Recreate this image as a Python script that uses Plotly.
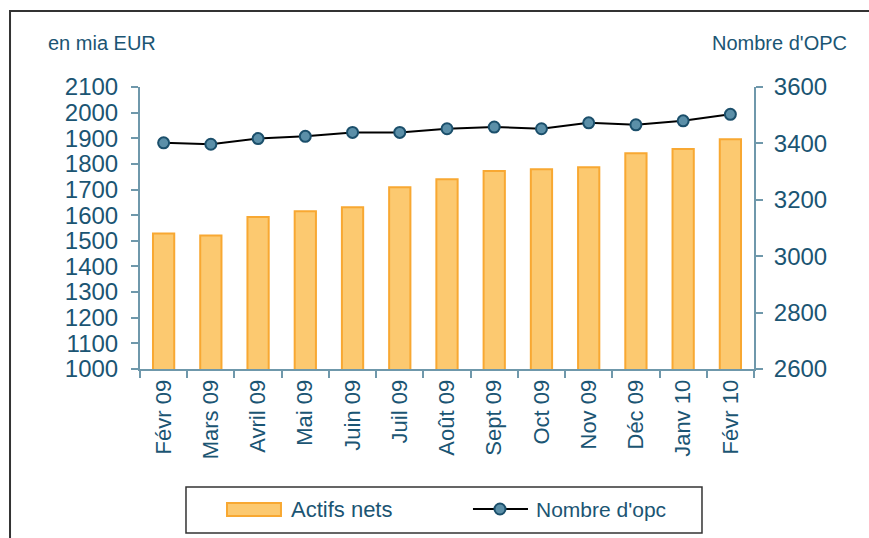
import plotly.graph_objects as go

months = ["Févr 09", "Mars 09", "Avril 09", "Mai 09", "Juin 09", "Juil 09", "Août 09",
          "Sept 09", "Oct 09", "Nov 09", "Déc 09", "Janv 10", "Févr 10"]
actifs_nets = [1529, 1521, 1593, 1615, 1631, 1709, 1740, 1772, 1779, 1787, 1842, 1858, 1896]
nombre_opc = [3402, 3397, 3417, 3425, 3439, 3439, 3452, 3458, 3452, 3473, 3466, 3480, 3503]
left_ticks = list(range(1000, 2101, 100))
right_ticks = list(range(2600, 3601, 200))
series_names = ["Actifs nets", "Nombre d'opc"]

FONT = "Liberation Sans, Arial, sans-serif"
TXT = "#1b5573"
AX = "#6f98ab"
BAR_FILL = "#fcc970"
BAR_LINE = "#f8a832"
MK_FILL = "#5b8fa8"
MK_LINE = "#1b4f6b"

fig = go.Figure()
fig.add_trace(go.Bar(
    x=months, y=actifs_nets, name=series_names[0],
    marker=dict(color=BAR_FILL, line=dict(color=BAR_LINE, width=2)),
    width=0.45, yaxis="y", showlegend=False,
))
fig.add_trace(go.Scatter(
    x=months, y=nombre_opc, name=series_names[1], mode="lines+markers",
    line=dict(color="#000000", width=2),
    marker=dict(size=11, color=MK_FILL, line=dict(color=MK_LINE, width=2)),
    yaxis="y2", showlegend=False,
))

# custom legend (paper coordinates relative to plot area)
ly = -0.4965
shapes = [
    dict(type="rect", xref="paper", yref="paper", x0=-0.2117, x1=1.4, y0=-0.7, y1=1.2695,
         line=dict(color="#333333", width=2), fillcolor="rgba(0,0,0,0)", layer="below"),
    dict(type="rect", xref="paper", yref="paper", x0=0.0749, x1=0.9153, y0=-0.5816, y1=-0.4184,
         line=dict(color="#333333", width=1.5), fillcolor="rgba(0,0,0,0)"),
    dict(type="rect", xref="paper", yref="paper", x0=0.1417, x1=0.2296, y0=-0.5213, y1=-0.4752,
         line=dict(color=BAR_LINE, width=2), fillcolor=BAR_FILL),
    dict(type="line", xref="paper", yref="paper", x0=0.5423, x1=0.6319, y0=ly, y1=ly,
         line=dict(color="#000000", width=2)),
    dict(type="circle", xref="paper", yref="paper", x0=0.5863 - 0.0090, x1=0.5863 + 0.0090,
         y0=ly - 0.0195, y1=ly + 0.0195, line=dict(color=MK_LINE, width=2), fillcolor=MK_FILL),
]

annotations = [
    dict(text="en mia EUR", xref="paper", yref="paper", x=-0.062, y=1.156,
         showarrow=False, font=dict(size=20, color=TXT), xanchor="center", yanchor="middle"),
    dict(text="Nombre d'OPC", xref="paper", yref="paper", x=1.0415, y=1.156,
         showarrow=False, font=dict(size=20, color=TXT), xanchor="center", yanchor="middle"),
    dict(text=series_names[0], xref="paper", yref="paper", x=0.2427, y=ly,
         showarrow=False, font=dict(size=22, color=TXT), xanchor="left", yanchor="middle"),
    dict(text=series_names[1], xref="paper", yref="paper", x=0.6417, y=ly,
         showarrow=False, font=dict(size=21, color=TXT), xanchor="left", yanchor="middle"),
]

fig.update_layout(
    width=869, height=538,
    margin=dict(l=140, r=115, t=87, b=169),
    paper_bgcolor="white", plot_bgcolor="white",
    font=dict(family=FONT, color=TXT, size=20),
    showlegend=False,
    xaxis=dict(
        type="category", showgrid=False, showline=True, linecolor=AX, linewidth=2,
        ticks="outside", tickson="boundaries", ticklen=7, tickcolor=AX, tickwidth=2,
        tickangle=-90, tickfont=dict(size=22, color=TXT), range=[-0.5, 12.5],
    ),
    yaxis=dict(
        range=[1000, 2100], tickvals=left_ticks, showgrid=False, zeroline=False,
        showline=True, linecolor=AX, linewidth=2, ticks="outside", ticklen=7,
        tickcolor=AX, tickwidth=2, tickfont=dict(size=24, color=TXT),
        ticklabelstandoff=8,
    ),
    yaxis2=dict(
        range=[2600, 3600], tickvals=right_ticks, overlaying="y", side="right",
        showgrid=False, zeroline=False, showline=True, linecolor=AX, linewidth=2,
        ticks="outside", ticklen=7, tickcolor=AX, tickwidth=2,
        tickfont=dict(size=24, color=TXT), ticklabelstandoff=6,
    ),
    annotations=annotations,
    shapes=shapes,
)

fig.write_html(
    "out.html",
    config={"displayModeBar": False},
    post_script="document.body.style.margin='0';document.body.style.overflow='hidden';",
)
